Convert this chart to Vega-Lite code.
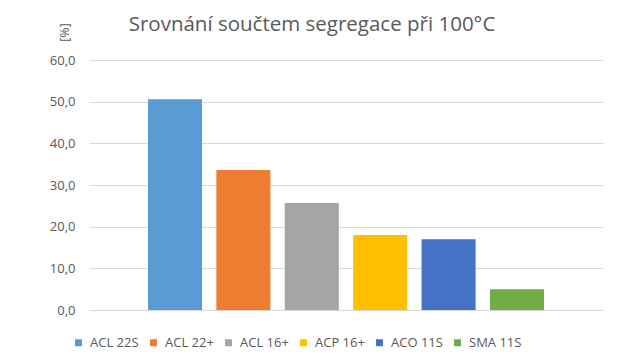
{
  "$schema": "https://vega.github.io/schema/vega-lite/v6.json",
  "width": 514,
  "height": 250,
  "autosize": {"type": "none"},
  "padding": {"left": 89, "top": 60, "right": 17, "bottom": 52},
  "background": "white",
  "title": {
    "text": "Srovnání součtem segregace při 100°C",
    "font": "Open Sans",
    "fontSize": 20.5,
    "fontWeight": "normal",
    "color": "#595959",
    "anchor": "middle",
    "dx": -34,
    "offset": 0,
    "dy": 13
  },
  "data": {
    "values": [
      {"typ": "ACL 22S", "hodnota": 50.6},
      {"typ": "ACL 22+", "hodnota": 33.6},
      {"typ": "ACL 16+", "hodnota": 25.7},
      {"typ": "ACP 16+", "hodnota": 18.0},
      {"typ": "ACO 11S", "hodnota": 17.0},
      {"typ": "SMA 11S", "hodnota": 5.0}
    ]
  },
  "mark": {"type": "bar"},
  "encoding": {
    "x": {
      "field": "typ",
      "type": "nominal",
      "sort": null,
      "scale": {"paddingInner": 0.21, "paddingOuter": 0.8627},
      "axis": {
        "labels": false,
        "ticks": false,
        "title": null,
        "domain": true,
        "domainColor": "#D9D9D9",
        "domainWidth": 1
      }
    },
    "y": {
      "field": "hodnota",
      "type": "quantitative",
      "scale": {"domain": [0, 60]},
      "axis": {
        "values": [0, 10, 20, 30, 40, 50, 60],
        "labelExpr": "replace(format(datum.value, '.1f'), '.', ',')",
        "title": "[%]",
        "titleAngle": -90,
        "titleX": -25,
        "titleY": -28,
        "titleAlign": "center",
        "titleBaseline": "middle",
        "titleFont": "Open Sans",
        "titleFontSize": 12.5,
        "titleFontWeight": "normal",
        "titleColor": "#595959",
        "labelFont": "Open Sans",
        "labelFontSize": 13,
        "labelColor": "#595959",
        "labelPadding": 14,
        "ticks": false,
        "domain": false,
        "grid": true,
        "gridColor": "#D9D9D9",
        "gridWidth": 1
      }
    },
    "color": {
      "field": "typ",
      "type": "nominal",
      "sort": null,
      "scale": {
        "domain": ["ACL 22S", "ACL 22+", "ACL 16+", "ACP 16+", "ACO 11S", "SMA 11S"],
        "range": ["#5B9BD5", "#ED7D31", "#A5A5A5", "#FFC000", "#4472C4", "#70AD47"]
      },
      "legend": {
        "title": null,
        "orient": "none",
        "direction": "horizontal",
        "legendX": -17,
        "legendY": 276,
        "symbolType": "square",
        "symbolSize": 49,
        "symbolStrokeWidth": 0,
        "labelFont": "Open Sans",
        "labelFontSize": 13,
        "labelColor": "#595959",
        "labelOffset": 5,
        "columnPadding": 8
      }
    }
  },
  "config": {
    "view": {"stroke": null}
  }
}
